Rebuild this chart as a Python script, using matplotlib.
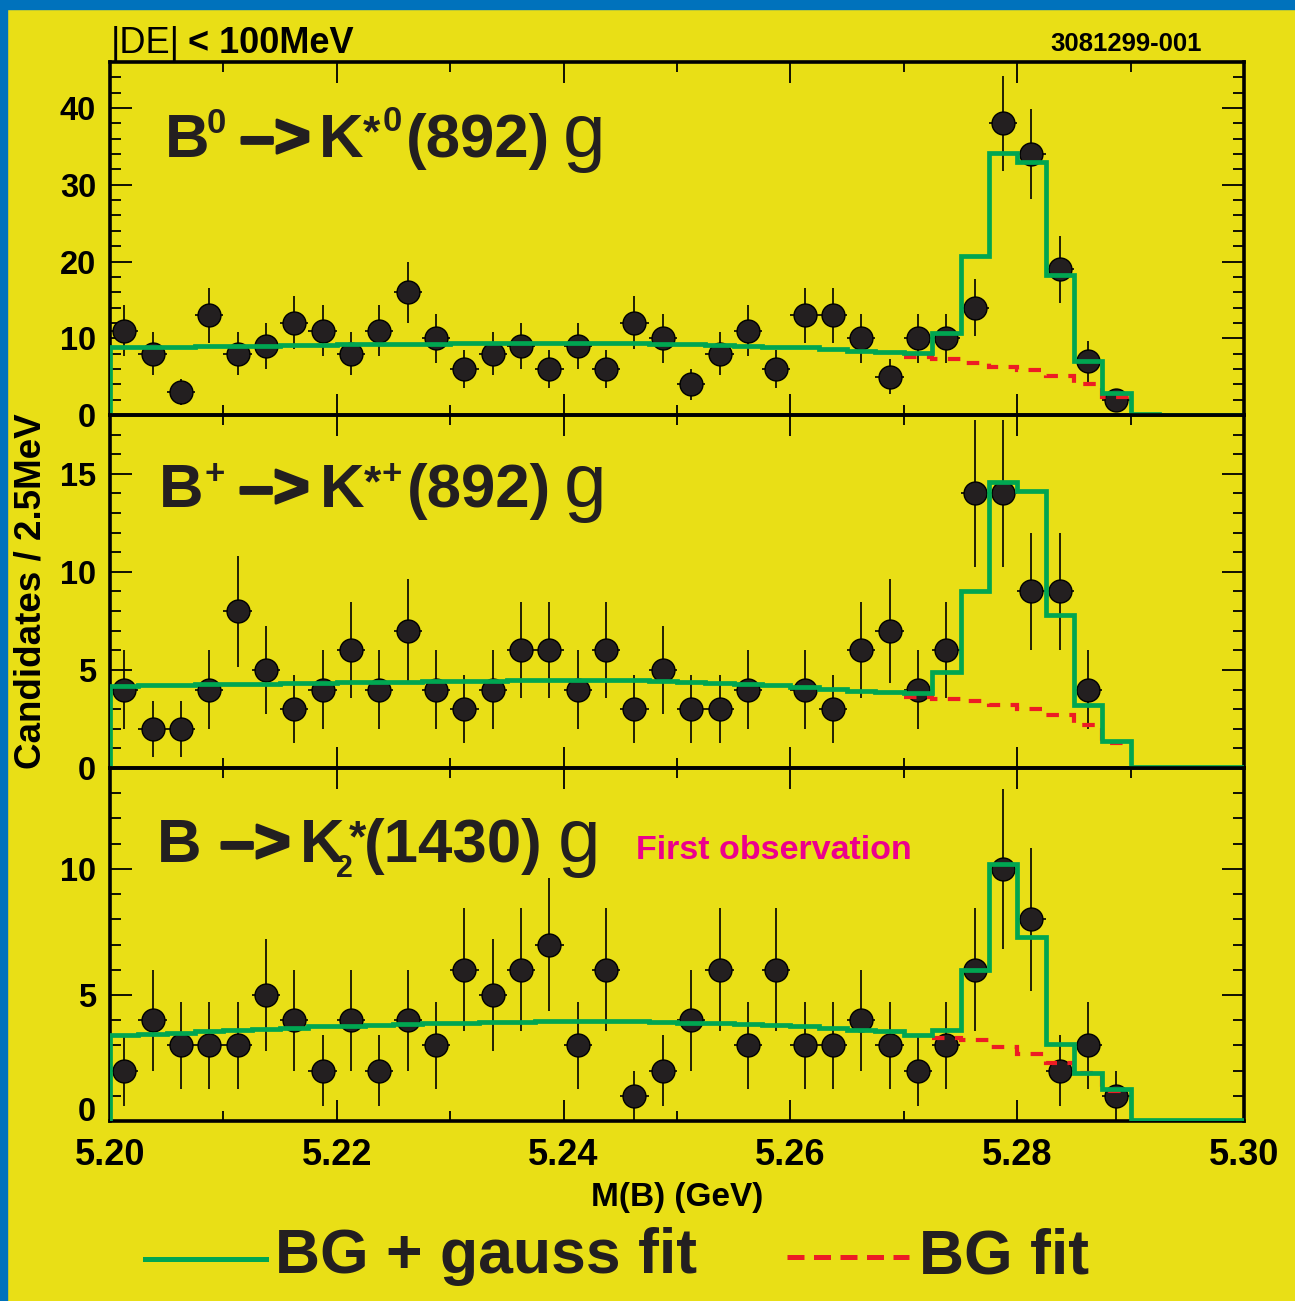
import numpy as np
import matplotlib
matplotlib.use("Agg")
import matplotlib.pyplot as plt
import matplotlib.patheffects as pe
from matplotlib.lines import Line2D
from matplotlib.patches import Rectangle
from matplotlib.ticker import MultipleLocator
from matplotlib.transforms import ScaledTranslation

W, H = 1295, 1301  # output size in pixels

YELLOW = "#e9df16"
BLUE = "#0072bc"
GREEN = "#00a651"
RED = "#ed1c24"
DOT = "#231f20"
MAGENTA = "#ec008c"

plt.rcParams["font.family"] = ["Liberation Sans", "DejaVu Sans"]
plt.rcParams["font.weight"] = "bold"

# M(B) histogram binning: 2.5 MeV bins from 5.20 to 5.30 GeV
edges = np.linspace(5.20, 5.30, 41)
centers = 0.5 * (edges[:-1] + edges[1:])

# candidates per bin (0 = empty bin, not drawn)
counts_k0 = [11, 8, 3, 13, 8, 9, 12, 11, 8, 11, 16, 10, 6, 8, 9, 6, 9, 6, 12, 10,
             4, 8, 11, 6, 13, 13, 10, 5, 10, 10, 14, 38, 34, 19, 7, 2, 0, 0, 0, 0]
counts_kp = [4, 2, 2, 4, 8, 5, 3, 4, 6, 4, 7, 4, 3, 4, 6, 6, 4, 6, 3, 5,
             3, 3, 4, 0, 4, 3, 6, 7, 4, 6, 14, 14, 9, 9, 4, 0, 0, 0, 0, 0]
counts_k2 = [2, 4, 3, 3, 3, 5, 4, 2, 4, 2, 4, 3, 6, 5, 6, 7, 3, 6, 1, 2,
             4, 6, 3, 6, 3, 3, 4, 3, 2, 3, 6, 10, 8, 2, 3, 1, 0, 0, 0, 0]

# BG + gauss fit, one value per bin
fit_k0 = [8.8, 8.85, 8.9, 8.95, 9.0, 9.05, 9.1, 9.15, 9.2, 9.25, 9.3, 9.3,
          9.35, 9.35, 9.4, 9.4, 9.4, 9.4, 9.35, 9.3,
          9.2, 9.1, 9.0, 8.9, 8.8, 8.6, 8.4, 8.2,
          8.1, 10.7, 20.7, 34.1, 33.0, 18.2, 7.1, 2.9, 0.15, 0.05, 0.05, 0.05]
fit_kp = [4.2, 4.22, 4.24, 4.26, 4.28, 4.3, 4.32, 4.34,
          4.36, 4.38, 4.4, 4.42, 4.44, 4.46, 4.48, 4.5,
          4.5, 4.5, 4.48, 4.45,
          4.4, 4.35, 4.3, 4.22, 4.15, 4.05, 3.95, 3.85,
          3.8, 4.9, 9.0, 14.6, 14.1, 7.8, 3.2, 1.4, 0.05, 0.03, 0.03, 0.03]
fit_k2 = [3.4, 3.45, 3.5, 3.55, 3.6, 3.65, 3.7, 3.75,
          3.78, 3.81, 3.84, 3.87, 3.9, 3.92, 3.94, 3.95,
          3.96, 3.96, 3.95, 3.93,
          3.9, 3.88, 3.85, 3.8, 3.76, 3.7, 3.62, 3.55,
          3.42, 3.6, 6.0, 10.2, 7.3, 3.06, 1.9, 1.27, 0.05, 0.03, 0.03, 0.03]

# BG fit alone, bins ending at 5.290
bg_k0 = [7.5, 7.3, 6.8, 6.3, 5.8, 5.1, 4.0, 2.4]
bg_kp = [3.6, 3.5, 3.4, 3.2, 3.0, 2.7, 2.2, 1.3]
bg_k2 = [3.3, 3.2, 2.95, 2.65, 2.3, 1.9, 1.2]


def fpos(x, y):
    """pixel position (from top left) -> figure fraction"""
    return x / W, 1 - y / H


def draw_panel(ax, counts, fit, bg, ymax, major, minor):
    """
    Draw one mass panel: data points with sqrt(N) errors, fit histogram and BG fit
    """
    counts = np.asarray(counts, dtype=float)
    keep = counts > 0
    ax.errorbar(centers[keep], counts[keep], yerr=np.sqrt(counts[keep]),
                xerr=0.00125, fmt="o", ms=16.5, mfc=DOT, mec="black", mew=1.0,
                ecolor="black", elinewidth=1.2, capsize=0, zorder=3)
    ax.stairs(fit, edges, baseline=0, color=GREEN, lw=3.4, zorder=5)
    bg_edges = edges[36 - len(bg):37]
    ax.stairs(bg, bg_edges, baseline=None, color=RED, lw=3.0,
              ls=(0, (3.0, 2.5)), zorder=4)

    ax.set_xlim(5.20, 5.30)
    ax.set_ylim(0, ymax)
    ax.set_facecolor("none")
    ax.xaxis.set_major_locator(MultipleLocator(0.02))
    ax.xaxis.set_minor_locator(MultipleLocator(0.01))
    ax.yaxis.set_major_locator(MultipleLocator(major))
    ax.yaxis.set_minor_locator(MultipleLocator(minor))
    ax.tick_params(which="both", direction="in", top=True, right=True,
                   width=1.3, colors="black")
    ax.tick_params(axis="x", which="major", length=15, pad=12, labelsize=26)
    ax.tick_params(axis="x", which="minor", length=7)
    ax.tick_params(axis="y", which="major", length=16, pad=10, labelsize=23.5)
    ax.tick_params(axis="y", which="minor", length=8)
    for sp in ax.spines.values():
        sp.set_linewidth(2.6)
    ax.xaxis.set_major_formatter(lambda v, p: "%.2f" % v)


def decay_label(pieces):
    """Put the pieces of a decay label (text, x, baseline y, size)"""
    for s, x, y, size in pieces:
        t = fig.text(*fpos(x, y), s, ha="left", va="baseline", fontsize=size,
                     fontweight="bold", color=DOT)
        if s == "–>":
            # the arrow is drawn a bit heavier than the font
            t.set_path_effects([pe.withStroke(linewidth=2, foreground=DOT)])


fig = plt.figure(figsize=(W / 100, H / 100), dpi=100, facecolor=YELLOW)

# blue frame on top and left edges
fig.patches.append(Rectangle((0, 0), 7 / W, 1, transform=fig.transFigure,
                             color=BLUE, zorder=0))
fig.patches.append(Rectangle((0, 1 - 9 / H), 1, 9 / H, transform=fig.transFigure,
                             color=BLUE, zorder=0))

left, width = 110 / W, 1134 / W
ph = 353 / H
ax_top = fig.add_axes([left, 1 - 415 / H, width, ph])
ax_mid = fig.add_axes([left, 1 - 768 / H, width, ph])
ax_bot = fig.add_axes([left, 1 - 1121 / H, width, ph])

draw_panel(ax_top, counts_k0, fit_k0, bg_k0, 46, 10, 2)
draw_panel(ax_mid, counts_kp, fit_kp, bg_kp, 18, 5, 1)
draw_panel(ax_bot, counts_k2, fit_k2, bg_k2, 14, 5, 1)
ax_top.tick_params(axis="x", labelbottom=False)
ax_mid.tick_params(axis="x", labelbottom=False)

ax_bot.set_xlabel("M(B) (GeV)", fontsize=24, fontweight="bold", labelpad=7)
fig.text(*fpos(31, 591), "Candidates / 2.5MeV", rotation=90, ha="center",
         va="center", fontsize=26.5)

# header texts
fig.text(*fpos(111, 53), "|DE|", ha="left", va="baseline", fontsize=26,
         fontweight="normal")
fig.text(*fpos(188, 53), "< 100MeV", ha="left", va="baseline", fontsize=26)
fig.text(*fpos(1050, 51), "3081299-001", ha="left", va="baseline", fontsize=18.5)

big = 44.5
sup = 25
star = 32
decay_label([("B", 165, 157, big), ("0", 207, 133, sup),
             ("–>", 240, 157, big),
             ("K", 319, 157, big), ("*", 363, 146, star), ("0", 383, 131, sup),
             ("(892)", 406, 157, big)])
decay_label([("B", 159, 507, big), ("+", 205, 484, sup),
             ("–>", 239, 507, big),
             ("K", 320, 507, big), ("*", 364, 496, star), ("+", 382, 484, sup),
             ("(892)", 407, 507, big)])
decay_label([("B", 157, 862, big),
             ("–>", 220, 862, big),
             ("K", 300, 862, big), ("2", 336, 877, 22),
             ("*", 349, 851, star),
             ("(1430)", 364, 862, big)])
for gx, gy in [(563, 157), (564, 507), (558, 862)]:
    fig.text(*fpos(gx, gy), "g", ha="left", va="baseline", fontsize=55,
             fontweight="normal", color=DOT)

fig.text(*fpos(636, 859), "First observation", ha="left", va="baseline",
         fontsize=24.5, color=MAGENTA)

# legend below the plot
fig.add_artist(Line2D([145 / W, 266 / W], [1 - 1259 / H] * 2, color=GREEN, lw=3.6))
fig.add_artist(Line2D([787 / W, 909 / W], [1 - 1257 / H] * 2, color=RED, lw=3.6,
                      ls=(0, (3.4, 1.9))))
fig.text(*fpos(275, 1273), "BG + gauss fit", ha="left", va="baseline",
         fontsize=45, color=DOT)
fig.text(*fpos(919, 1273), "BG fit", ha="left", va="baseline",
         fontsize=45, color=DOT)

# the "0" label of the lowest panel sits a little above its tick
fig.canvas.draw()
for tick, loc in zip(ax_bot.yaxis.get_major_ticks(), ax_bot.yaxis.get_majorticklocs()):
    if abs(loc) < 1e-9:
        lab = tick.label1
        lab.set_transform(lab.get_transform()
                          + ScaledTranslation(0, 0.12, fig.dpi_scale_trans))

fig.savefig("out.png", dpi=100, facecolor=YELLOW)
